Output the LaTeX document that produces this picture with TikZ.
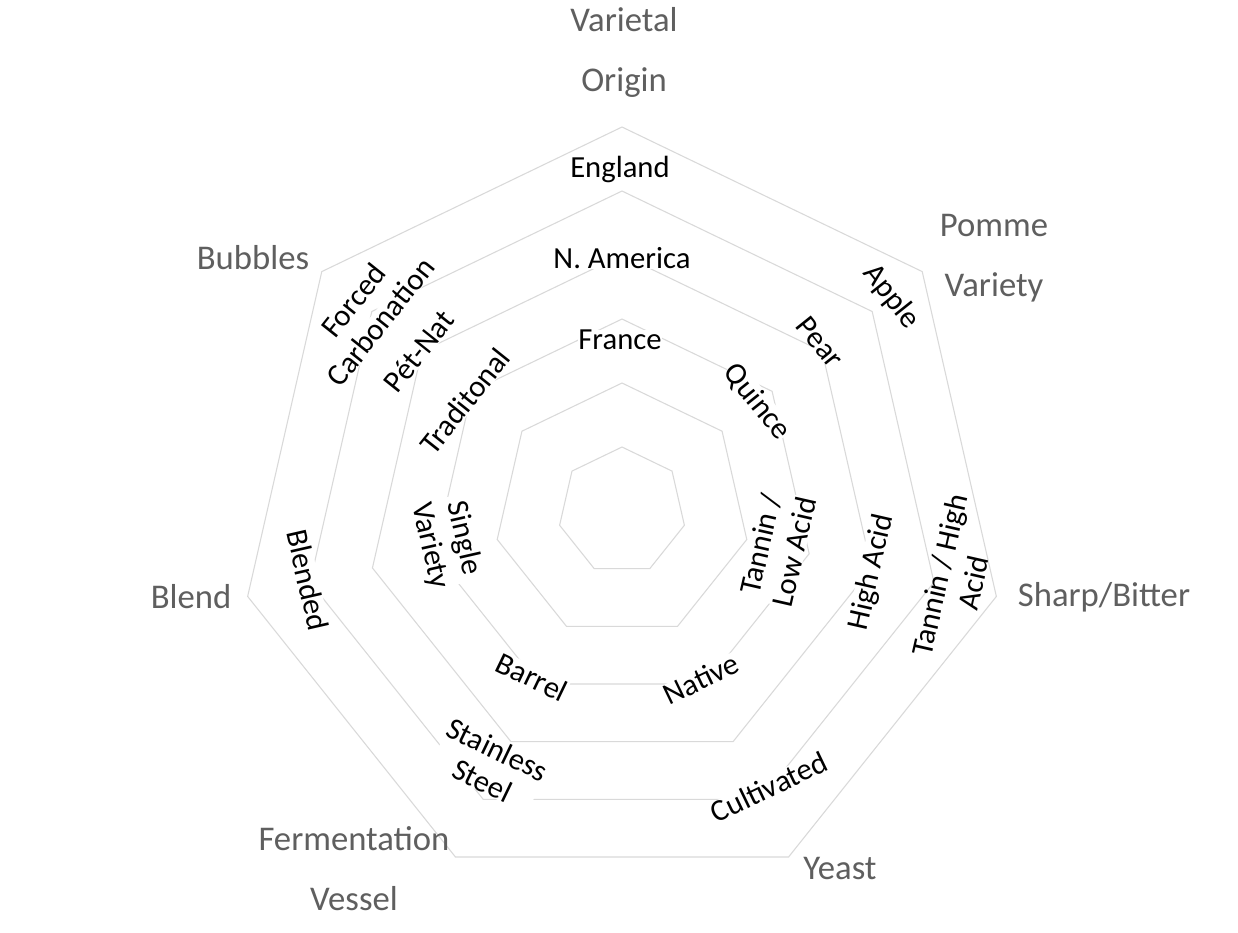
\documentclass[tikz,border=0pt]{standalone}
\usepackage{fontspec}
\setmainfont{Carlito}
\definecolor{gridc}{HTML}{D9D9D9}
\definecolor{axc}{HTML}{5F5F5F}
\newcommand{\wbox}[1]{{\setlength{\fboxsep}{0pt}\colorbox{white}{#1}}}
\begin{document}
\begin{tikzpicture}[x=0.75pt,y=-0.75pt,
  dlab/.style={font=\fontsize{23}{26}\selectfont, fill=white, inner sep=0pt, align=center, text=black},
  nofill/.style={fill=none},
  alab/.style={font=\fontsize{26}{45}\selectfont, text=axc, align=center, inner sep=0pt}]
\useasboundingbox[fill=white] (0,0) rectangle (1238,932);
\begin{scope}[shift={(622,511)},yscale=-1]
\foreach \r in {64,128,...,384}{
  \draw[gridc,line width=0.8pt] (90:\r) \foreach \k in {1,...,6}{ -- ({90+\k*360/7}:\r)} -- cycle;
}
\end{scope}
% axis titles
\node[alab] (origin) at (624,52) {Varietal\\Origin};
\node[alab] (pomme) at (994,258) {Pomme\\Variety};
\node[alab] (sharp) at (1104,597) {Sharp/Bitter};
\node[alab] (yeast) at (840,868) {Yeast};
\node[alab] (vessel) at (354,869) {Fermentation\\Vessel};
\node[alab] (blend) at (191,597) {Blend};
\node[alab] (bubbles) at (253,258) {Bubbles};
% Varietal origin
\node[dlab] (france) at (620,340) {France};
\node[dlab] (namerica) at (622,258) {N. America};
\node[dlab] (england) at (620,169) {England};
% Pomme variety
\node[dlab,rotate=-51.43] (quince) at (757,402) {Quince};
\node[dlab,rotate=-51.43] (pear) at (820,342) {Pear};
\node[dlab,rotate=-51.43] (apple) at (891,297) {Apple};
% Sharp/Bitter
\node[dlab,rotate=77.14] (tlow) at (777,548) {Tannin /\\Low Acid};
\node[dlab,rotate=77.14] (high) at (872,572) {High Acid};
\node[dlab,nofill,rotate=77.14] (thigh) at (956,579) {Tannin / High\\Acid};
% Yeast
\node[dlab,rotate=25.71] (native) at (701,679) {Native};
\node[dlab,rotate=25.71] (cult) at (769,787) {Cultivated};
% Fermentation vessel
\node[dlab,rotate=-25.71] (barrel) at (532,677) {Barrel};
\node[dlab,rotate=-25.71] (steel) at (490,765) {Stainless\\Steel};
% Blend
\node[dlab,rotate=-77.14] (single) at (447,542) {Single\\Variety};
\node[dlab,rotate=-77.14] (blended) at (308,580) {Blended};
% Bubbles
\node[dlab,rotate=51.43] (trad) at (465,401) {Traditonal};
\node[dlab,rotate=51.43] (petnat) at (419,351) {Pét-Nat};
\node[dlab,nofill,rotate=51.43] (forced) at (367,311) {\wbox{Forced}\\\wbox{Carbonation}};
\end{tikzpicture}
\end{document}
